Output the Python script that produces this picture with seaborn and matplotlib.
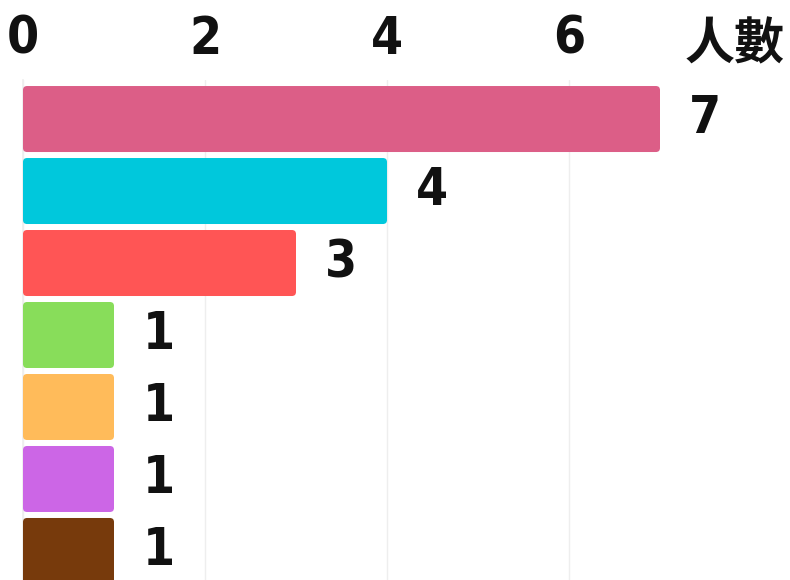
import matplotlib
matplotlib.use("Agg")
import matplotlib.pyplot as plt
import seaborn as sns
import pandas as pd
from matplotlib.patches import FancyBboxPatch

categories = ["A", "B", "C", "D", "E", "F", "G"]
values = [7, 4, 3, 1, 1, 1, 1]
colors = ["#dc5e87", "#00c8dc", "#ff5555", "#88dd5a", "#ffbb5a", "#cc66e6", "#773a0c"]
xticks = [0, 2, 4, 6]
axis_label = "人數"

sns.set_theme(style="white")
plt.rcParams['font.family'] = ['DejaVu Sans']
plt.rcParams['font.stretch'] = 'condensed'

df = pd.DataFrame({"cat": categories, "val": values})

fig = plt.figure(figsize=(7.9, 5.8), dpi=100)
W, H = 790, 580
ax = fig.add_axes([23 / W, 0, (W - 23) / W, 500 / H])

sns.barplot(data=df, x="val", y="cat", hue="cat", palette=colors, legend=False,
            width=66 / 72, ax=ax, saturation=1, linewidth=0)

ax.set_xlim(0, (W - 23) / 91)
ax.set_ylim(6.403, -0.542)

# replace bars with rounded ones
aspect = 91 / 72
for p in list(ax.patches):
    x0, y0 = p.get_x(), p.get_y()
    w, h = p.get_width(), p.get_height()
    fc = p.get_facecolor()
    p.remove()
    fb = FancyBboxPatch((x0, y0), w, h, boxstyle="round,pad=0,rounding_size=0.045",
                        mutation_aspect=aspect, facecolor=fc, edgecolor="none",
                        zorder=3)
    ax.add_patch(fb)

for i, v in enumerate(values):
    ax.annotate(str(v), xy=(v, i), xytext=(21, 0), textcoords="offset points",
                ha="left", va="center", fontsize=37, fontweight="bold",
                fontstretch="condensed", color="#111111")

ax.xaxis.tick_top()
ax.set_xticks(xticks)
ax.set_xticklabels([str(t) for t in xticks], fontsize=37, fontweight="bold",
                   fontstretch="condensed", color="#111111")
ax.tick_params(axis="x", length=0, pad=11)
ax.set_yticks([])
ax.set_xlabel("")
ax.set_ylabel("")
ax.grid(axis="x", color="#eeeeee", linewidth=1)
ax.set_axisbelow(True)
for s in ["top", "right", "bottom"]:
    ax.spines[s].set_visible(False)
ax.spines["left"].set_color("#eeeeee")

fig.text(735 / W, 1 - 45 / H, axis_label, ha="center", va="center", fontsize=36,
         fontweight="heavy", family=["Noto Sans CJK TC", "DejaVu Sans"], color="#111111")

fig.savefig("out.png", dpi=100, facecolor="white")
